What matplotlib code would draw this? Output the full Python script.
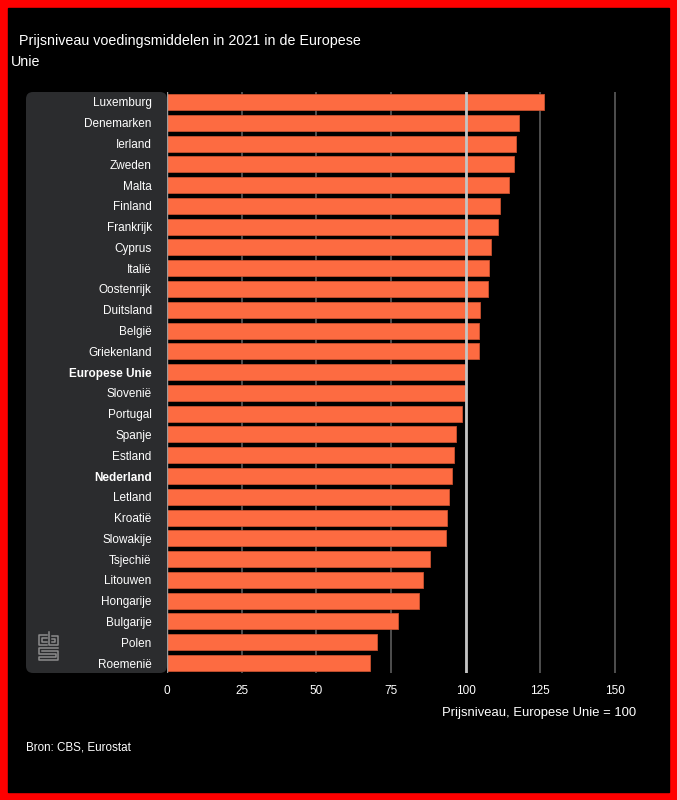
import matplotlib
matplotlib.use('Agg')
import matplotlib.pyplot as plt
from matplotlib.patches import Rectangle, FancyBboxPatch
from matplotlib.lines import Line2D

plt.rcParams['font.family'] = ['Liberation Sans', 'DejaVu Sans']

# Data
countries = ['Luxemburg', 'Denemarken', 'Ierland', 'Zweden', 'Malta', 'Finland',
             'Frankrijk', 'Cyprus', 'Italië', 'Oostenrijk', 'Duitsland', 'België',
             'Griekenland', 'Europese Unie', 'Slovenië', 'Portugal', 'Spanje',
             'Estland', 'Nederland', 'Letland', 'Kroatië', 'Slowakije', 'Tsjechië',
             'Litouwen', 'Hongarije', 'Bulgarije', 'Polen', 'Roemenië']
prijsniveau = [126.1, 118.0, 117.0, 116.0, 114.4, 111.5, 110.8, 108.6, 107.8, 107.5,
               104.9, 104.6, 104.6, 100.0, 100.0, 98.8, 96.9, 96.2, 95.5, 94.4,
               93.6, 93.3, 88.2, 85.7, 84.2, 77.4, 70.4, 68.0]
bold_labels = ['Europese Unie', 'Nederland']
xticks = [0, 25, 50, 75, 100, 125, 150]

W, H = 677, 800
fig = plt.figure(figsize=(W / 100, H / 100), dpi=100, facecolor='#ff0000')

# black inner area inside the red frame
fig.add_artist(Rectangle((8 / W, 8 / H), (W - 16) / W, (H - 16) / H,
                         transform=fig.transFigure, color='black', zorder=-2))

# grey panel behind the country labels
fig.add_artist(FancyBboxPatch((0.26, (H - 673) / 100), 1.41, 5.81,
                              boxstyle='round,pad=0,rounding_size=0.07',
                              transform=fig.dpi_scale_trans,
                              facecolor='#2b2c2e', edgecolor='none', zorder=-1))

ax = fig.add_axes([167 / W, 1 - 673.4 / H, 463 / W, 581.8 / H])
ax.set_facecolor('none')

y = list(range(len(countries)))
ax.barh(y, prijsniveau, height=0.77, color='#fd6b41', edgecolor='#c9512f',
        linewidth=0.6, zorder=2)

ax.set_xlim(0, 155)
ax.set_ylim(len(countries) - 0.5, -0.5)
ax.set_xticks(xticks)
ax.set_yticks(y)
ax.set_yticklabels(countries)
for lbl in ax.get_yticklabels():
    if lbl.get_text() in bold_labels:
        lbl.set_fontweight('bold')

ax.grid(axis='x', color='#555555', linewidth=1.3, zorder=1)
ax.grid(axis='y', visible=False)
ax.set_axisbelow(True)
ax.axvline(100, color='#c4c4c4', linewidth=2, zorder=3)
ax.axvline(0, color='#9a9a9a', linewidth=1, zorder=3)

for s in ax.spines.values():
    s.set_visible(False)
ax.tick_params(axis='y', length=0, pad=11, labelsize=8.5, labelcolor='white')
ax.tick_params(axis='x', length=0, pad=8, labelsize=8.5, labelcolor='white')

# titles and notes
fig.text(11 / W, 1 - 45 / H, '  Prijsniveau voedingsmiddelen in 2021 in de Europese',
         color='white', fontsize=10.3, ha='left', va='baseline')
fig.text(11 / W, 1 - 66 / H, 'Unie',
         color='white', fontsize=10.3, ha='left', va='baseline')
fig.text(636 / W, 1 - 713 / H, 'Prijsniveau, Europese Unie = 100',
         color='white', fontsize=9.4, ha='right', va='center')
fig.text(26 / W, 1 - 747 / H, 'Bron: CBS, Eurostat',
         color='white', fontsize=8.4, ha='left', va='center')

# simple cbs logo outline
logo = [
    [(47, 635), (39, 635), (39, 645), (47, 645)],
    [(47, 638), (42, 638), (42, 642), (47, 642)],
    [(49, 632), (49, 645), (58, 645), (58, 636), (52, 636)],
    [(52, 639), (55, 639), (55, 642), (52, 642)],
    [(58, 648), (39, 648), (39, 654), (56, 654), (56, 657), (39, 657), (39, 660), (58, 660), (58, 651), (42, 651)],
]
for pts in logo:
    xs = [p[0] / 100 for p in pts]
    ys = [(H - p[1]) / 100 for p in pts]
    fig.add_artist(Line2D(xs, ys, transform=fig.dpi_scale_trans,
                          color='#8c8c8c', linewidth=1.1, zorder=1))

fig.savefig('out.png', dpi=100, facecolor=fig.get_facecolor())
